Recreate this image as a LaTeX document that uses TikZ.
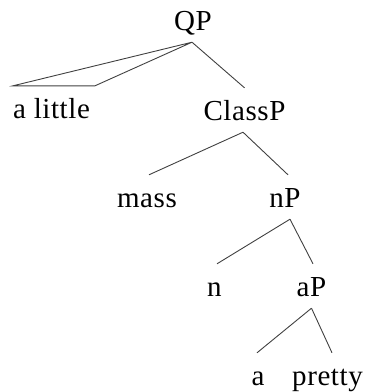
\documentclass[tikz,border=0pt]{standalone}
\usepackage{fontspec}
\setmainfont[LetterSpace=2]{Liberation Serif}
\begin{document}
\begin{tikzpicture}[x=1pt,y=-1pt,
  lbl/.style={anchor=base, inner sep=0pt, text height=32pt, text depth=12pt,
    font=\fontsize{29}{32}\selectfont},
  branch/.style={draw=black!75, line width=0.9pt, line join=miter}]
\useasboundingbox (0,0) rectangle (369,392);

% labels of the tree
\node[lbl] (QP)     at (193,30)    {QP};
\node[lbl] (little) at (51.5,118)  {a little};
\node[lbl] (ClassP) at (244.5,120) {ClassP};
\node[lbl] (mass)   at (147,207)   {mass};
\node[lbl] (nP)     at (285,207)   {nP};
\node[lbl] (n)      at (214.5,296) {n};
\node[lbl] (aP)     at (311.5,296) {aP};
\node[lbl] (a)      at (258,385)   {a};
\node[lbl] (pretty) at (327.5,385) {pretty};

% roof over the unanalysed phrase
\draw[branch] ([xshift=-1pt]QP.south) -- ([xshift=-38.5pt]little.north)
  -- ([xshift=43.5pt]little.north) -- cycle;

% branches
\draw[branch] ([xshift=-1pt]QP.south) -- (ClassP.north);
\draw[branch] ([xshift=-1.5pt]ClassP.south) -- ([xshift=2pt]mass.north);
\draw[branch] ([xshift=-1.5pt]ClassP.south) -- ([xshift=3pt]nP.north);
\draw[branch] ([xshift=5pt]nP.south) -- ([xshift=2.5pt]n.north);
\draw[branch] ([xshift=5pt]nP.south) -- ([xshift=1.5pt]aP.north);
\draw[branch] (aP.south) -- ([xshift=-1pt]a.north);
\draw[branch] (aP.south) -- ([xshift=4.5pt]pretty.north);
\end{tikzpicture}
\end{document}
